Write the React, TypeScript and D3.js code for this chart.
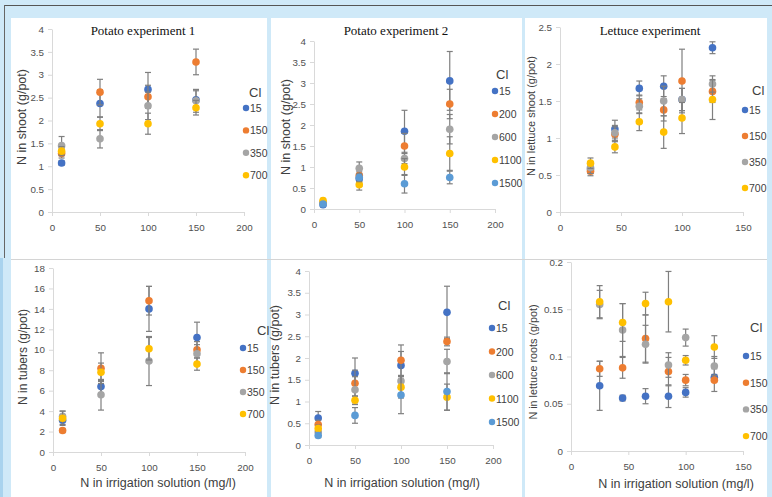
import React, { useRef, useEffect } from 'react';
import * as d3 from 'd3';

// Cl series colours (Excel palette)
const colors = ['#4472C4', '#ED7D31', '#A5A5A5', '#FFC000', '#5B9BD5'];

// Potato experiment 1 – shoot
const p1X = [10, 50, 100, 150];
const p1Cl = ['15', '150', '350', '700'];
const p1Mean = [
  [1.07, 2.37, 2.68, 2.45],
  [1.28, 2.62, 2.52, 3.28],
  [1.45, 1.6, 2.32, 2.43],
  [1.33, 1.93, 1.93, 2.28],
];
const p1Err = [
  [0.05, 0.3, 0.37, 0.2],
  [0.1, 0.28, 0.25, 0.28],
  [0.2, 0.2, 0.3, 0.25],
  [0.1, 0.15, 0.23, 0.16],
];

// Potato experiment 2 – shoot
const p2X = [10, 50, 100, 150];
const p2Cl = ['15', '200', '600', '1100', '1500'];
const p2Mean = [
  [0.1, 0.72, 1.85, 3.05],
  [0.15, 0.8, 1.5, 2.5],
  [0.15, 0.97, 1.2, 1.9],
  [0.2, 0.58, 1.0, 1.32],
  [0.12, 0.75, 0.6, 0.75],
];
const p2Err = [
  [0.05, 0.18, 0.5, 0.7],
  [0.05, 0.15, 0.3, 0.35],
  [0.05, 0.15, 0.12, 0.35],
  [0.05, 0.13, 0.2, 0.4],
  [0.04, 0.1, 0.22, 0.15],
];

// Lettuce experiment – shoot
const p3X = [25, 45, 65, 85, 100, 125];
const p3Cl = ['15', '150', '350', '700'];
const p3Mean = [
  [0.58, 1.12, 1.67, 1.7, 1.52, 2.22],
  [0.55, 1.05, 1.48, 1.38, 1.77, 1.63],
  [0.6, 1.07, 1.43, 1.5, 1.52, 1.73],
  [0.66, 0.88, 1.22, 1.08, 1.27, 1.52],
];
const p3Err = [
  [0.06, 0.12, 0.1, 0.14, 0.15, 0.08],
  [0.06, 0.1, 0.1, 0.15, 0.43, 0.15],
  [0.08, 0.1, 0.1, 0.2, 0.15, 0.11],
  [0.07, 0.08, 0.12, 0.22, 0.21, 0.27],
];

// Potato experiment 1 – tubers
const p4X = [10, 50, 100, 150];
const p4Cl = ['15', '150', '350', '700'];
const p4Mean = [
  [3.1, 6.4, 14.0, 11.2],
  [2.1, 8.2, 14.8, 10.0],
  [3.5, 5.6, 8.9, 9.6],
  [3.3, 7.8, 10.1, 8.6],
];
const p4Err = [
  [0.4, 0.6, 2.2, 1.5],
  [0.2, 1.5, 1.4, 0.8],
  [0.5, 1.5, 2.4, 0.9],
  [0.7, 0.9, 1.1, 0.6],
];

// Potato experiment 2 – tubers
const p5X = [10, 50, 100, 150];
const p5Cl = ['15', '200', '600', '1100', '1500'];
const p5Mean = [
  [0.62, 1.65, 1.83, 3.05],
  [0.47, 1.42, 1.95, 2.38],
  [0.3, 1.27, 1.47, 1.92],
  [0.38, 1.03, 1.33, 1.1],
  [0.22, 0.68, 1.15, 1.23],
];
const p5Err = [
  [0.15, 0.35, 0.32, 0.6],
  [0.1, 0.3, 0.35, 0.1],
  [0.08, 0.3, 0.1, 0.28],
  [0.08, 0.1, 0.25, 0.3],
  [0.05, 0.18, 0.43, 0.43],
];

// Lettuce experiment – roots
const p6X = [25, 45, 65, 85, 100, 125];
const p6Cl = ['15', '150', '350', '700'];
const p6Mean = [
  [0.069, 0.056, 0.058, 0.058, 0.062, 0.078],
  [0.087, 0.088, 0.119, 0.084, 0.075, 0.075],
  [0.155, 0.128, 0.113, 0.091, 0.12, 0.09],
  [0.158, 0.136, 0.156, 0.158, 0.096, 0.11],
];
const p6Err = [
  [0.026, 0.003, 0.008, 0.012, 0.005, 0.003],
  [0.008, 0.011, 0.025, 0.015, 0.006, 0.012],
  [0.015, 0.028, 0.02, 0.013, 0.009, 0.01],
  [0.017, 0.02, 0.012, 0.032, 0.005, 0.012],
];

const potatoXTicks = [0, 50, 100, 150, 200];
const lettuceXTicks = [0, 50, 100, 150];
const shootYTicks = [0, 0.5, 1, 1.5, 2, 2.5, 3, 3.5, 4];
const lettuceShootYTicks = [0, 0.5, 1, 1.5, 2, 2.5];
const tuber1YTicks = [0, 2, 4, 6, 8, 10, 12, 14, 16, 18];
const tuber2YTicks = [0, 0.5, 1, 1.5, 2, 2.5, 3, 3.5, 4];
const rootYTicks = [0, 0.05, 0.1, 0.15, 0.2];

const xTitle = 'N in irrigation solution (mg/l)';

const panels = [
  {
    xs: p1X, cl: p1Cl, mean: p1Mean, err: p1Err, xTicks: potatoXTicks, yTicks: shootYTicks,
    xr: [52, 244], yr: [212, 29], title: 'Potato experiment 1', tx: 143,
    yLabel: 'N in shoot (g/pot)', ylx: 22, yly: 117, ylfs: 12.5,
    leg: { mx: 246, clx: 249, cly: 92, y0: 108, step: 22.4 },
  },
  {
    xs: p2X, cl: p2Cl, mean: p2Mean, err: p2Err, xTicks: potatoXTicks, yTicks: shootYTicks,
    xr: [314, 495], yr: [209, 41], title: 'Potato experiment 2', tx: 396,
    yLabel: 'N in shoot (g/pot)', ylx: 286, yly: 127, ylfs: 12.5,
    leg: { mx: 495, clx: 496, cly: 74, y0: 91, step: 23 },
  },
  {
    xs: p3X, cl: p3Cl, mean: p3Mean, err: p3Err, xTicks: lettuceXTicks, yTicks: lettuceShootYTicks,
    xr: [560, 743], yr: [212, 27], title: 'Lettuce experiment', tx: 650,
    yLabel: 'N in lettuce shoot (g/pot)', ylx: 531, yly: 116, ylfs: 11,
    leg: { mx: 745, clx: 752, cly: 90, y0: 110, step: 26 },
  },
  {
    xs: p4X, cl: p4Cl, mean: p4Mean, err: p4Err, xTicks: potatoXTicks, yTicks: tuber1YTicks,
    xr: [53, 245], yr: [452, 268], xLabel: xTitle, xlx: 158, xly: 487,
    yLabel: 'N in tubers (g/pot)', ylx: 23, yly: 357, ylfs: 12,
    leg: { mx: 243, clx: 257, cly: 330, y0: 348, step: 22 },
  },
  {
    xs: p5X, cl: p5Cl, mean: p5Mean, err: p5Err, xTicks: potatoXTicks, yTicks: tuber2YTicks,
    xr: [309, 493], yr: [445, 271], xLabel: xTitle, xlx: 402, xly: 487,
    yLabel: 'N in tubers (g/pot)', ylx: 275, yly: 355, ylfs: 12.5,
    leg: { mx: 492, clx: 498, cly: 305, y0: 328, step: 23.5 },
  },
  {
    xs: p6X, cl: p6Cl, mean: p6Mean, err: p6Err, xTicks: lettuceXTicks, yTicks: rootYTicks,
    xr: [571, 743], yr: [451, 262], xLabel: xTitle, xlx: 676, xly: 488,
    yLabel: 'N in lettuce roots (g/pot)', ylx: 533, yly: 362, ylfs: 10.8,
    leg: { mx: 746, clx: 750, cly: 327, y0: 356, step: 26.7 },
  },
];

const sans = '"Liberation Sans", Arial, sans-serif';

export default function App() {
  const svgRef = useRef<SVGSVGElement>(null);

  useEffect(() => {
    const svg = d3.select(svgRef.current);
    svg.selectAll('*').remove();

    // background frame
    svg.append('rect').attr('width', 772).attr('height', 497).attr('fill', '#cfe9f8');
    svg.append('rect').attr('x', 0).attr('y', 258).attr('width', 3).attr('height', 239).attr('fill', '#a9d3ee');
    svg.append('line').attr('x1', 4).attr('x2', 772).attr('y1', 5.5).attr('y2', 5.5).attr('stroke', '#555');
    svg.append('line').attr('x1', 4.5).attr('x2', 4.5).attr('y1', 5).attr('y2', 258).attr('stroke', '#666');

    const cells = [
      [11, 18, 256, 241], [271, 18, 251, 241], [525, 18, 242, 241],
      [11, 260, 256, 237], [271, 260, 251, 237], [525, 260, 242, 237],
    ];
    cells.forEach(([x, y, w, h]) => {
      svg.append('rect').attr('x', x).attr('y', y).attr('width', w).attr('height', h).attr('fill', '#fff');
    });
    svg.append('line').attr('x1', 11).attr('x2', 767).attr('y1', 259.5).attr('y2', 259.5).attr('stroke', '#d4d4d4');

    panels.forEach((p) => {
      const x = d3.scaleLinear().domain([p.xTicks[0], p.xTicks[p.xTicks.length - 1]]).range(p.xr);
      const y = d3.scaleLinear().domain([p.yTicks[0], p.yTicks[p.yTicks.length - 1]]).range(p.yr);
      const g = svg.append('g');

      const xAxis = g.append('g')
        .attr('transform', `translate(0,${p.yr[0]})`)
        .call(d3.axisBottom(x).tickValues(p.xTicks).tickFormat((d) => String(d)).tickSize(4).tickSizeOuter(0).tickPadding(8));
      const yAxis = g.append('g')
        .attr('transform', `translate(${p.xr[0]},0)`)
        .call(d3.axisLeft(y).tickValues(p.yTicks).tickFormat((d) => String(d)).tickSize(4).tickSizeOuter(0).tickPadding(4));
      [xAxis, yAxis].forEach((ax) => {
        ax.select('.domain').attr('stroke', '#d9d9d9');
        ax.selectAll('line').attr('stroke', '#d9d9d9');
        ax.selectAll('text').attr('fill', '#505050').attr('font-size', 9.8).attr('font-family', sans);
      });

      if (p.title) {
        g.append('text').attr('x', p.tx).attr('y', 35).attr('text-anchor', 'middle')
          .attr('font-family', '"Liberation Serif", "Times New Roman", serif').attr('font-size', 13)
          .attr('fill', '#111').text(p.title);
      }
      if (p.xLabel) {
        g.append('text').attr('x', p.xlx).attr('y', p.xly).attr('text-anchor', 'middle')
          .attr('font-family', sans).attr('font-size', 12.5).attr('fill', '#404040').text(p.xLabel);
      }
      g.append('text')
        .attr('transform', `translate(${p.ylx},${p.yly}) rotate(-90)`)
        .attr('text-anchor', 'middle').attr('dominant-baseline', 'central')
        .attr('font-family', sans).attr('font-size', p.ylfs).attr('fill', '#404040').text(p.yLabel);

      // series: error bars then markers
      p.mean.forEach((vals, si) => {
        const sg = g.append('g');
        vals.forEach((v, i) => {
          const cx = x(p.xs[i]);
          const e = p.err[si][i];
          const y1 = y(v - e);
          const y2 = y(v + e);
          sg.append('line').attr('x1', cx).attr('x2', cx).attr('y1', y1).attr('y2', y2)
            .attr('stroke', '#7f7f7f').attr('stroke-width', 1.2);
          [y1, y2].forEach((yy) => {
            sg.append('line').attr('x1', cx - 3).attr('x2', cx + 3).attr('y1', yy).attr('y2', yy)
              .attr('stroke', '#7f7f7f').attr('stroke-width', 1.2);
          });
        });
        sg.selectAll('circle').data(vals).join('circle')
          .attr('cx', (_, i) => x(p.xs[i]))
          .attr('cy', (d) => y(d))
          .attr('r', 3.8)
          .attr('fill', colors[si]);
      });

      // legend
      g.append('text').attr('x', p.leg.clx).attr('y', p.leg.cly).attr('dominant-baseline', 'central')
        .attr('font-family', sans).attr('font-size', 13).attr('fill', '#404040').text('Cl');
      p.cl.forEach((name, i) => {
        const ly = p.leg.y0 + i * p.leg.step;
        g.append('circle').attr('cx', p.leg.mx).attr('cy', ly).attr('r', 3.2).attr('fill', colors[i]);
        g.append('text').attr('x', p.leg.mx + 4).attr('y', ly).attr('dominant-baseline', 'central')
          .attr('font-family', sans).attr('font-size', 10.5).attr('fill', '#404040').text(name);
      });
    });
  }, []);

  return (
    <svg ref={svgRef} width={772} height={497}
      style={{ position: 'absolute', left: 0, top: 0, display: 'block' }} />
  );
}
